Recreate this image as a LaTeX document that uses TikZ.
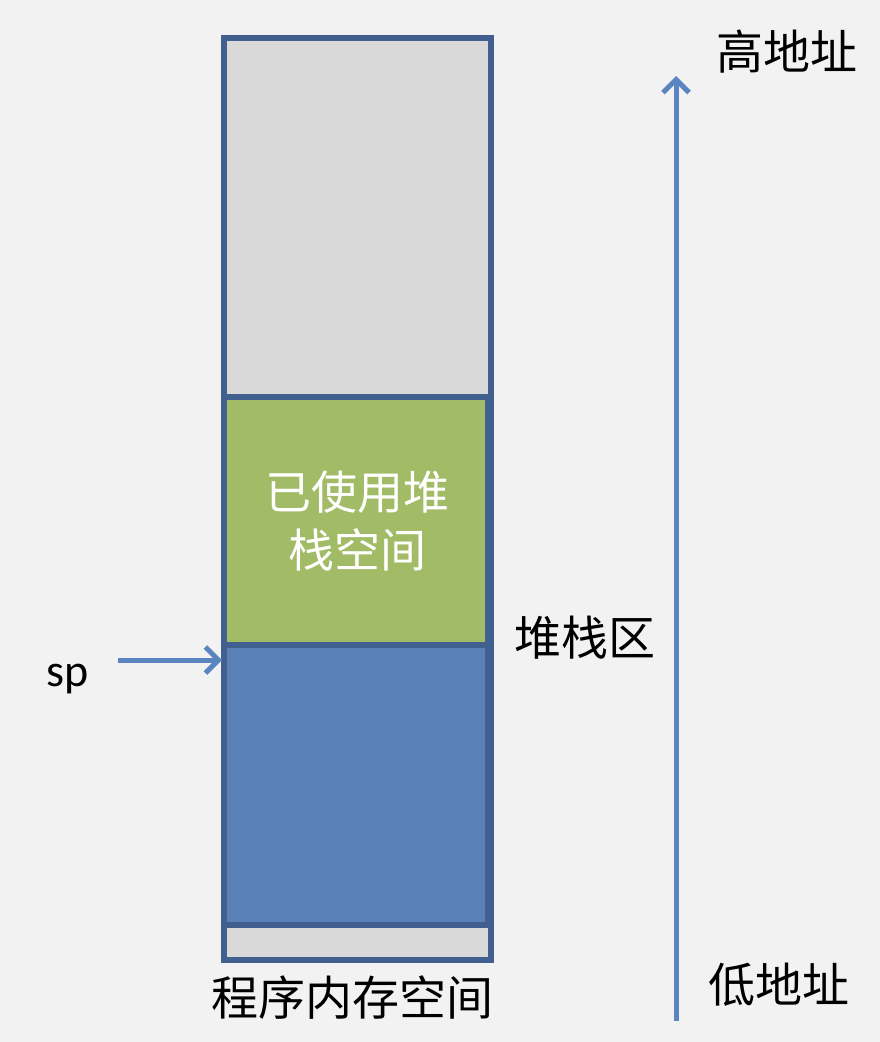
\documentclass[tikz,border=0pt]{standalone}
\usepackage{fontspec}
\setmainfont{Carlito}
\newfontfamily\cjk{Noto Sans CJK SC}
\usetikzlibrary{arrows.meta}

\definecolor{pagegray}{HTML}{F2F2F2}
\definecolor{freegray}{HTML}{D9D9D9}
\definecolor{edgeblue}{HTML}{41608F}
\definecolor{usedgreen}{HTML}{A2BB66}
\definecolor{stackblue}{HTML}{5A80B8}
\definecolor{arrowblue}{HTML}{5B85C0}

\tikzset{
  membox/.style={draw=edgeblue, line width=5.5pt, inner sep=0pt},
  addr/.style={font=\cjk\fontsize{47}{52}\selectfont, text=black},
  ptr/.style={draw=arrowblue, line width=5pt, ->}
}

\begin{document}
\begin{tikzpicture}[x=1pt, y=-1pt, >={Straight Barb[length=13pt,width=26pt]}]
    \fill[pagegray] (0,0) rectangle (880,1042);
    \useasboundingbox (0,0) rectangle (880,1042);
    % whole program memory
    \node[membox, fill=freegray, minimum width=267pt, minimum height=922pt] (mem) at (357.5,499) {};
    \node[membox, fill=usedgreen, minimum width=264pt, minimum height=248pt] (used) at (356,521) {};
    \node[membox, fill=stackblue, minimum width=264pt, minimum height=280pt] (free) at (356,785) {};
    \node[font=\cjk\fontsize{46}{58}\selectfont, text=white, align=center] (usedtxt) at (357,521) {已使用堆\\栈空间};
    \node[addr] (memname) at (352,998) {程序内存空间};
    % stack pointer
    \node[font=\fontsize{46}{50}\selectfont] (sp) at (68,679) {sp};
    \coordinate (sptail) at (118,660);
    \coordinate (sptip) at (222,660);
    \draw[ptr] (sptail) -- (sptip);
    % address direction
    \node[addr] (high) at (787,52) {高地址};
    \node[addr] (low) at (779,985) {低地址};
    \node[addr] (stackname) at (585,638) {堆栈区};
    \coordinate (lowend) at (676,1021);
    \coordinate (highend) at (676,76);
    \draw[ptr] (lowend) -- (highend);
\end{tikzpicture}
\end{document}
